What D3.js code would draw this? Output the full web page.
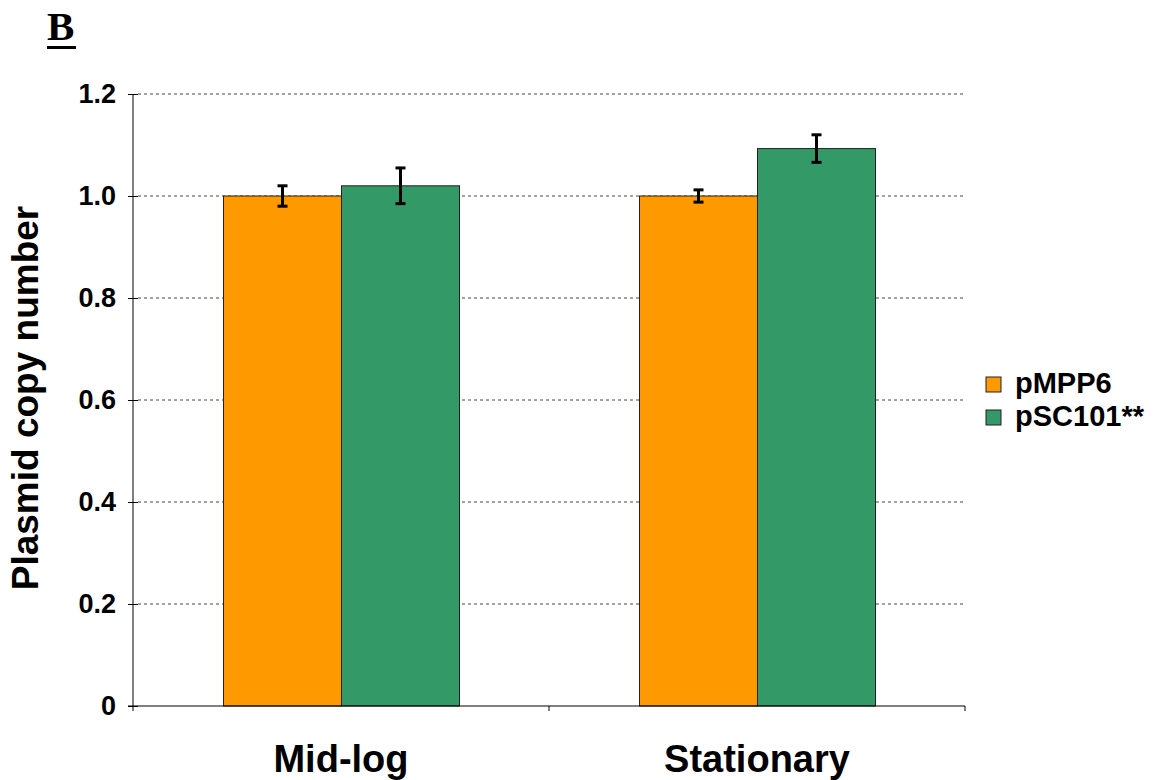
<!DOCTYPE html>
<html><head><meta charset="utf-8">
<script src="https://cdn.jsdelivr.net/npm/d3@7"></script>
<style>body{margin:0;background:#fff;} svg{display:block;}</style>
</head><body>
<svg id="chart" width="1157" height="780"></svg>
<script>
const categories = ["Mid-log", "Stationary"];
const seriesNames = ["pMPP6", "pSC101**"];
const pMPP6 = [1.0, 1.0];
const pSC101 = [1.02, 1.093];
const pMPP6Err = [0.02, 0.012];
const pSC101Err = [0.035, 0.027];
const yTicks = [0, 0.2, 0.4, 0.6, 0.8, 1.0, 1.2];
const colors = ["#FF9900", "#339966"];

const svg = d3.select("#chart");
const font = "'Liberation Sans', Arial, sans-serif";
const L = 133, R = 965, T = 94, B = 706;

const x = d3.scaleBand().domain(categories).range([L, R]).paddingInner(0).paddingOuter(0);
const y = d3.scaleLinear().domain([0, 1.2]).range([B, T]);

// title "B"
svg.append("text").attr("x", 47).attr("y", 40).attr("font-family", "'Liberation Serif','Times New Roman',serif")
  .attr("font-weight", "bold").attr("font-size", 41).text("B");
svg.append("rect").attr("x", 47).attr("y", 46).attr("width", 29).attr("height", 3).attr("fill", "#000");

// gridlines
svg.append("g").selectAll("line").data(yTicks.filter(d => d > 0)).join("line")
  .attr("x1", L + 5).attr("x2", R).attr("y1", d => y(d)).attr("y2", d => y(d))
  .attr("stroke", "#444").attr("stroke-width", 1).attr("stroke-dasharray", "3,3");

// bars
const data = [];
categories.forEach((c, i) => {
  data.push({c, s: seriesNames[0], v: pMPP6[i], e: pMPP6Err[i], col: colors[0]});
  data.push({c, s: seriesNames[1], v: pSC101[i], e: pSC101Err[i], col: colors[1]});
});
const bw = 118;
const bx = d => x(d.c) + x.bandwidth() / 2 + (d.s === seriesNames[0] ? -bw : 0);
svg.append("g").selectAll("rect").data(data).join("rect")
  .attr("x", d => bx(d) + 0.5).attr("y", d => y(d.v))
  .attr("width", bw).attr("height", d => y(0) - y(d.v))
  .attr("fill", d => d.col).attr("stroke", "#222").attr("stroke-width", 1);

// error bars
const eg = svg.append("g").attr("stroke", "#000").attr("stroke-width", 3);
data.forEach(d => {
  const cx = bx(d) + bw / 2 + 0.5;
  eg.append("line").attr("x1", cx).attr("x2", cx).attr("y1", y(d.v + d.e)).attr("y2", y(d.v - d.e));
  eg.append("line").attr("x1", cx - 5).attr("x2", cx + 5).attr("y1", y(d.v + d.e)).attr("y2", y(d.v + d.e));
  eg.append("line").attr("x1", cx - 5).attr("x2", cx + 5).attr("y1", y(d.v - d.e)).attr("y2", y(d.v - d.e));
});

// y axis
const yAxis = svg.append("g").attr("transform", `translate(${L},0)`)
  .call(d3.axisLeft(y).tickValues(yTicks).tickSize(5).tickPadding(12)
    .tickFormat(d => d === 0 ? "0" : d3.format(".1f")(d)));
yAxis.select(".domain").attr("stroke", "#000").attr("d", `M0,${T}V${B}`);
yAxis.selectAll(".tick line").attr("x1", -5).attr("x2", 5).attr("stroke", "#000");
yAxis.selectAll("text").attr("font-family", font).attr("font-weight", "bold").attr("font-size", 27).attr("fill", "#000");

// x axis
const xAxis = svg.append("g").attr("transform", `translate(0,${B})`);
xAxis.append("line").attr("x1", L - 5).attr("x2", R).attr("y1", 0).attr("y2", 0).attr("stroke", "#000");
xAxis.selectAll("line.t").data([L, L + x.bandwidth(), R]).join("line").attr("class", "t")
  .attr("x1", d => d).attr("x2", d => d).attr("y1", 0).attr("y2", 5).attr("stroke", "#000");
xAxis.selectAll("text").data(categories).join("text")
  .attr("x", d => x(d) + x.bandwidth() / 2).attr("y", 66).attr("text-anchor", "middle")
  .attr("font-family", font).attr("font-weight", "bold").attr("font-size", 38).text(d => d);

// y label
svg.append("text").attr("transform", "translate(38,398) rotate(-90)").attr("text-anchor", "middle")
  .attr("font-family", font).attr("font-weight", "bold").attr("font-size", 37).text("Plasmid copy number");

// legend
const lg = svg.append("g").selectAll("g").data(seriesNames).join("g")
  .attr("transform", (d, i) => `translate(986,${377 + i * 33})`);
lg.append("rect").attr("width", 15).attr("height", 15).attr("fill", (d, i) => colors[i]).attr("stroke", "#222");
lg.append("text").attr("x", 29).attr("y", 16).attr("font-family", font).attr("font-weight", "bold")
  .attr("font-size", 29).text(d => d);
</script>
</body></html>
